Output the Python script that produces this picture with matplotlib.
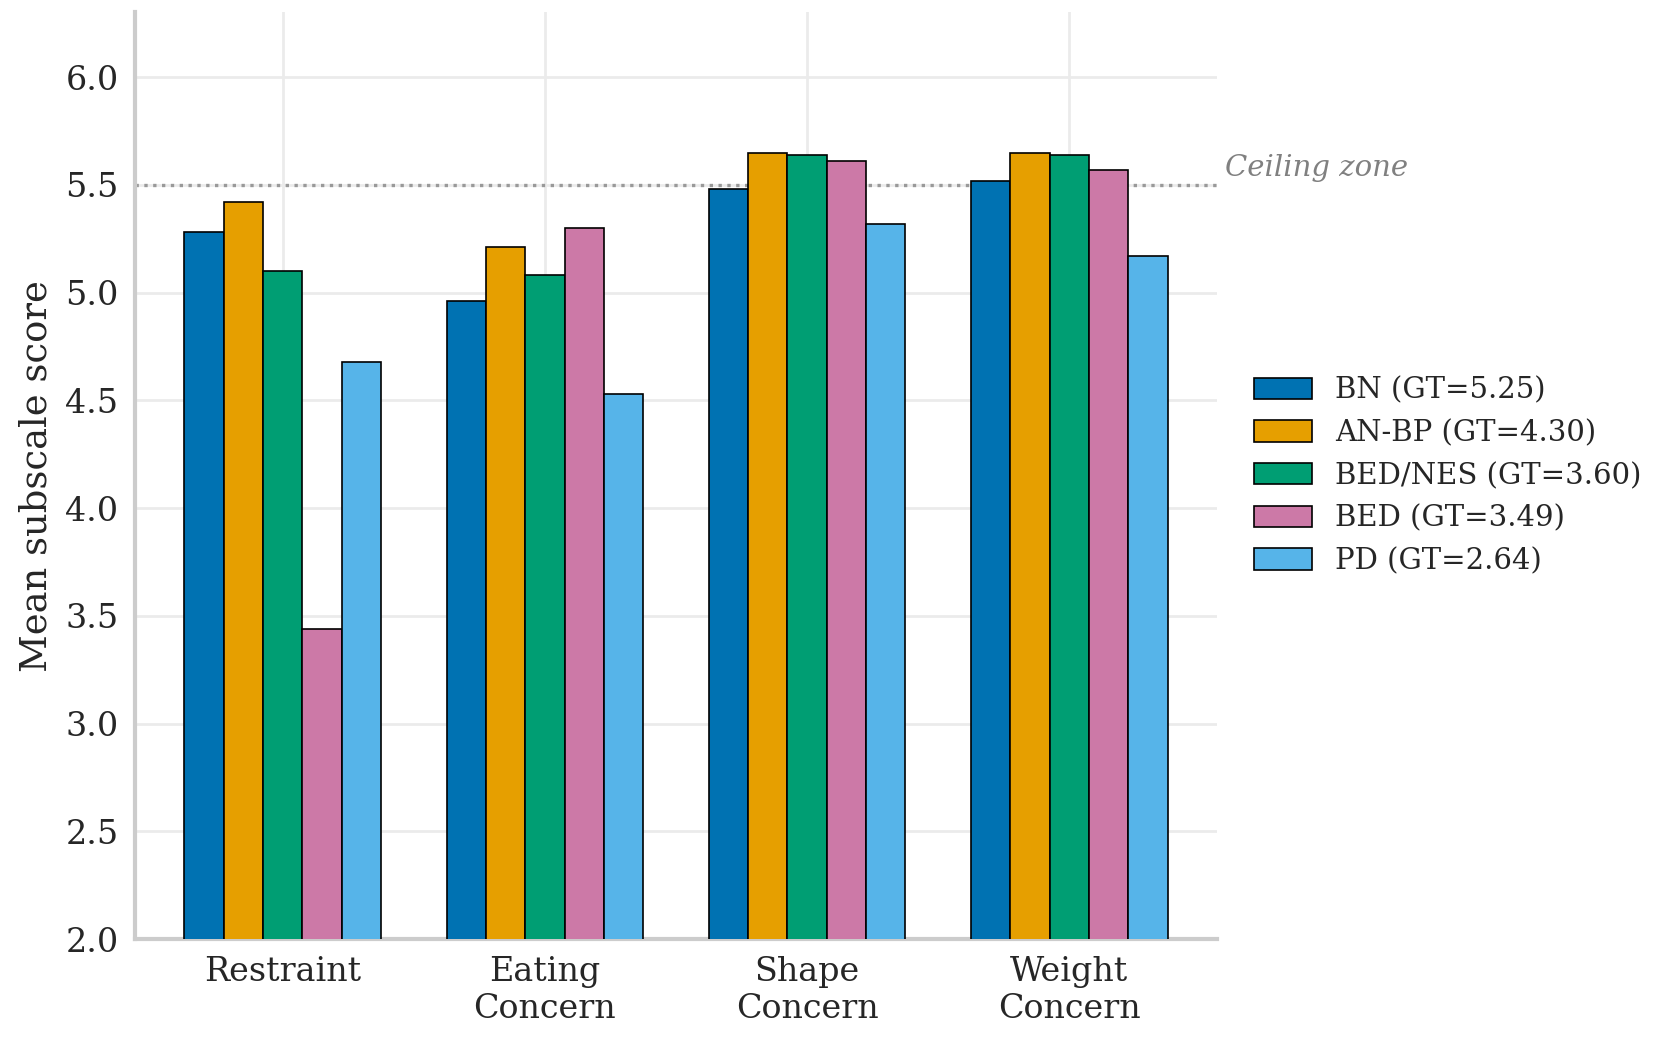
import numpy as np
import matplotlib
matplotlib.use("Agg")
import matplotlib.pyplot as plt

# data
subscales = ["Restraint", "Eating\nConcern", "Shape\nConcern", "Weight\nConcern"]
groups = ["BN (GT=5.25)", "AN-BP (GT=4.30)", "BED/NES (GT=3.60)", "BED (GT=3.49)", "PD (GT=2.64)"]
bn = [5.28, 4.96, 5.48, 5.52]
an_bp = [5.42, 5.21, 5.65, 5.65]
bed_nes = [5.10, 5.08, 5.64, 5.64]
bed = [3.44, 5.30, 5.61, 5.57]
pd_ = [4.68, 4.53, 5.32, 5.17]
ceiling = 5.5

colors = ["#0072B2", "#E69F00", "#009E73", "#CC79A7", "#56B4E9"]

plt.rcParams["font.family"] = ["DejaVu Serif"]
plt.rcParams["text.color"] = "#262626"
plt.rcParams["axes.labelcolor"] = "#262626"
plt.rcParams["xtick.color"] = "#262626"
plt.rcParams["ytick.color"] = "#262626"

fig, ax = plt.subplots(figsize=(8.345, 5.195), dpi=200)
fig.subplots_adjust(left=0.081, right=0.729, top=0.988, bottom=0.096)

x = np.arange(len(subscales))
w = 0.15
series = [bn, an_bp, bed_nes, bed, pd_]
for i, (vals, lab, c) in enumerate(zip(series, groups, colors)):
    ax.bar(x + (i - 2) * w, vals, width=w, color=c, edgecolor="black",
           linewidth=0.6, label=lab, zorder=3)

ax.axhline(ceiling, color="#999999", linestyle=":", linewidth=1.2, zorder=2)
ax.text(1.008, ceiling + 0.08, "Ceiling zone", transform=ax.get_yaxis_transform(),
        fontsize=10.5, style="italic", color="#808080", va="center", ha="left")

ax.set_ylim(2.0, 6.3)
ax.set_xticks(x)
ax.set_xticklabels(subscales, fontsize=12, linespacing=1.2)
ax.set_yticks(np.arange(2.0, 6.01, 0.5))
ax.tick_params(axis="y", labelsize=12)
ax.tick_params(length=0, pad=6)
ax.set_ylabel("Mean subscale score", fontsize=13.3)

ax.grid(True, color="#ebebeb", linewidth=1.0, zorder=0)
ax.set_axisbelow(True)
for s in ["top", "right"]:
    ax.spines[s].set_visible(False)
for s in ["left", "bottom"]:
    ax.spines[s].set_color("#cccccc")
    ax.spines[s].set_linewidth(1.5)

ax.legend(loc="center left", bbox_to_anchor=(1.01, 0.5), frameon=False,
          fontsize=10.5, handlelength=2.0, handleheight=0.75, labelspacing=0.5,
          handletextpad=0.8)

fig.savefig("out.png", dpi=200)
